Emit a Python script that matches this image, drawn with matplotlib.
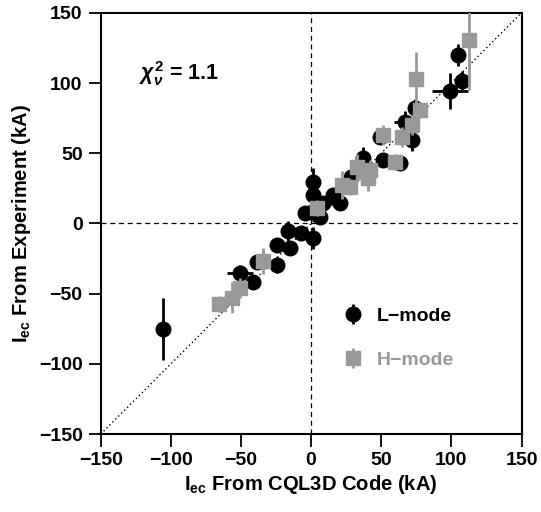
import numpy as np
import matplotlib.pyplot as plt

plt.rcParams['font.family'] = ['Liberation Sans', 'DejaVu Sans']
plt.rcParams['font.weight'] = 'bold'
plt.rcParams['mathtext.fontset'] = 'custom'
plt.rcParams['mathtext.rm'] = 'Liberation Sans:bold'
plt.rcParams['mathtext.bf'] = 'Liberation Sans:bold'
plt.rcParams['mathtext.it'] = 'Liberation Sans:italic'

# L-mode points (CQL3D vs experiment, kA)
l_x = [-105.8, -50.7, -41.4, -38.6, -24.4, -24.4, -15.1, -16.5, -7.3, 1.3,
       0.4, -4.4, 1.3, 1.3, 6.3, 8.4, 15.5, 20.5, 17.0, 28.8,
       36.9, 51.4, 63.2, 49.0, 71.6, 66.8, 73.9, 98.9, 107.9, 104.4]
l_y = [-75.1, -35.2, -41.7, -27.4, -29.6, -15.3, -17.4, -5.3, -6.8, -10.3,
       8.2, 7.5, 20.3, 29.6, 4.6, 14.6, 20.3, 14.6, 18.0, 33.1,
       46.7, 45.2, 43.1, 61.6, 59.5, 72.3, 82.3, 94.4, 101.7, 120.0]
l_yerr = [22, 6, 4, 4, 6, 5, 4, 7, 4, 8,
          5, 4, 6, 10, 4, 5, 4, 4, 4, 5,
          8, 5, 5, 5, 8, 8, 6, 13, 7, 8]
l_xerr = [0, 9, 0, 0, 0, 0, 0, 0, 0, 0,
          0, 0, 0, 0, 0, 0, 0, 0, 0, 0,
          0, 0, 0, 0, 0, 8, 0, 13, 4, 0]

# H-mode points
h_x = [-65.7, -56.4, -50.7, -34.3, 4.1, 21.9, 27.6, 32.6, 40.4, 41.9,
       36.9, 51.1, 64.7, 59.7, 71.8, 77.5, 74.6, 112.4]
h_y = [-57.3, -53.0, -46.0, -26.7, 11.0, 27.4, 26.0, 40.2, 32.4, 38.1,
       36.7, 63.0, 61.6, 43.8, 70.2, 80.8, 102.9, 130.7]
h_yerr = [6, 11, 7, 9, 6, 10, 6, 9, 9, 7,
          6, 7, 7, 6, 7, 6, 19, 36]

black = 'black'
grey = '#999999'

fig = plt.figure(figsize=(5.41, 5.12), dpi=100)
ax = fig.add_axes([0.186, 0.152, 0.778, 0.823])

ax.plot([-150, 150], [-150, 150], color='black', linestyle=(0, (1, 2)), linewidth=1.0, zorder=1)
ax.axhline(0, color='black', linestyle=(0, (4, 3)), linewidth=0.9, zorder=1)
ax.axvline(0, color='black', linestyle=(0, (4, 3)), linewidth=0.9, zorder=1)

ax.errorbar(l_x, l_y, yerr=l_yerr, xerr=l_xerr, fmt='o', color=black, ms=10.5,
            elinewidth=2, capsize=0, zorder=3)
ax.errorbar(h_x, h_y, yerr=h_yerr, fmt='s', color=grey, ms=9.5,
            elinewidth=2, capsize=0, zorder=4)

# legend proxies (vertical bars only)
p_l = ax.errorbar([np.nan], [np.nan], yerr=[1], fmt='o', color=black, ms=10.5, elinewidth=2, capsize=0)
p_h = ax.errorbar([np.nan], [np.nan], yerr=[1], fmt='s', color=grey, ms=9.5, elinewidth=2, capsize=0)
leg = ax.legend([p_l, p_h], ['L\u2212mode', 'H\u2212mode'], loc='center left',
                bbox_to_anchor=(0.54, 0.228), frameon=False, handlelength=0.8,
                handletextpad=0.8, labelspacing=1.35, prop={'size': 14, 'weight': 'bold'})
for txt, c in zip(leg.get_texts(), [black, grey]):
    txt.set_color(c)

ax.text(0.09, 0.855, r'$\chi^2_\nu$ = 1.1', transform=ax.transAxes, fontsize=15.5,
        fontweight='bold', va='center')

ax.set_xlim(-150, 150)
ax.set_ylim(-150, 150)
ax.set_xticks([-150, -100, -50, 0, 50, 100, 150])
ax.set_yticks([-150, -100, -50, 0, 50, 100, 150])
ax.tick_params(direction='out', length=9, width=1.3, labelsize=14, pad=4)
for lab in ax.get_xticklabels() + ax.get_yticklabels():
    lab.set_fontweight('bold')
for s in ax.spines.values():
    s.set_linewidth(1.5)

ax.set_xlabel(r'I$_{\mathrm{ec}}$ From CQL3D Code (kA)', fontsize=14.5, fontweight='bold', labelpad=3)
ax.set_ylabel(r'I$_{\mathrm{ec}}$ From Experiment (kA)', fontsize=14.5, fontweight='bold', labelpad=4)

plt.savefig('out.png', dpi=100)
